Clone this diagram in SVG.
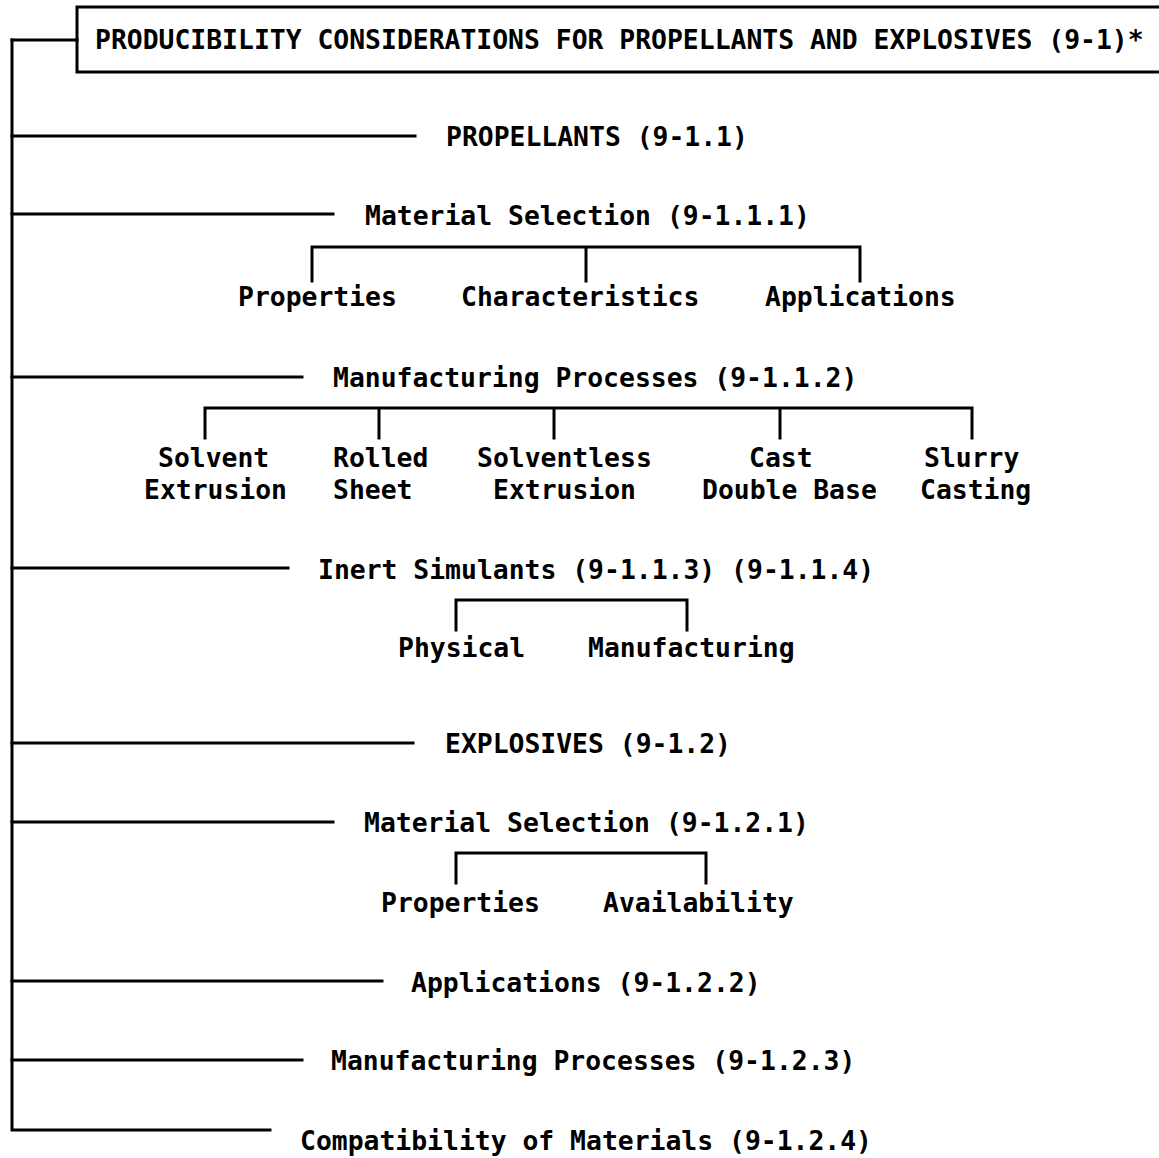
<svg xmlns="http://www.w3.org/2000/svg" width="1159" height="1158" viewBox="0 0 1159 1158">
  <style>
    .t { font-family: "DejaVu Sans Mono", "Liberation Mono", monospace; font-size: 26.4px; font-weight: bold; fill: #000; }
    .ln { stroke: #000; stroke-width: 3; fill: none; stroke-linecap: square; stroke-linejoin: miter; }
  </style>
  <rect width="1159" height="1158" fill="#fff"/>

  <!-- connectors: spine, branches and sub-brackets -->
  <g id="connectors" class="ln">
    <path d="M12,40 V1130 H270"/>
    <path d="M12,40 H77"/>
    <path d="M12,136 H415"/>
    <path d="M12,214 H333"/>
    <path d="M312,281 V247 H860 V281 M586,247 V281"/>
    <path d="M12,377 H302"/>
    <path d="M205,438 V408 H972 V438 M379,408 V438 M554,408 V438 M780,408 V438"/>
    <path d="M12,568 H288"/>
    <path d="M456,630 V600 H687 V630"/>
    <path d="M12,743 H413"/>
    <path d="M12,822 H333"/>
    <path d="M456,883 V853 H706 V883"/>
    <path d="M12,981 H382"/>
    <path d="M12,1060 H302"/>
  </g>

  <g id="root">
    <path class="ln" d="M1162,7 H77 V72 H1162"/>
    <text class="t" x="95" y="49">PRODUCIBILITY CONSIDERATIONS FOR PROPELLANTS AND EXPLOSIVES (9-1)*</text>
  </g>

  <g id="propellants"><text class="t" x="446" y="146">PROPELLANTS (9-1.1)</text></g>

  <g id="prop-material-selection"><text class="t" x="365" y="225">Material Selection (9-1.1.1)</text></g>
  <g id="prop-properties"><text class="t" x="238" y="306">Properties</text></g>
  <g id="prop-characteristics"><text class="t" x="461" y="306">Characteristics</text></g>
  <g id="prop-applications"><text class="t" x="765" y="306">Applications</text></g>

  <g id="prop-manufacturing"><text class="t" x="333" y="387">Manufacturing Processes (9-1.1.2)</text></g>
  <g id="solvent-extrusion">
    <text class="t" x="158" y="467">Solvent</text>
    <text class="t" x="144" y="499">Extrusion</text>
  </g>
  <g id="rolled-sheet">
    <text class="t" x="333" y="467">Rolled</text>
    <text class="t" x="333" y="499">Sheet</text>
  </g>
  <g id="solventless-extrusion">
    <text class="t" x="477" y="467">Solventless</text>
    <text class="t" x="493" y="499">Extrusion</text>
  </g>
  <g id="cast-double-base">
    <text class="t" x="749" y="467">Cast</text>
    <text class="t" x="702" y="499">Double Base</text>
  </g>
  <g id="slurry-casting">
    <text class="t" x="924" y="467">Slurry</text>
    <text class="t" x="920" y="499">Casting</text>
  </g>

  <g id="inert-simulants"><text class="t" x="318" y="579">Inert Simulants (9-1.1.3) (9-1.1.4)</text></g>
  <g id="physical"><text class="t" x="398" y="657">Physical</text></g>
  <g id="manufacturing"><text class="t" x="588" y="657">Manufacturing</text></g>

  <g id="explosives"><text class="t" x="445" y="753">EXPLOSIVES (9-1.2)</text></g>
  <g id="expl-material-selection"><text class="t" x="364" y="832">Material Selection (9-1.2.1)</text></g>
  <g id="expl-properties"><text class="t" x="381" y="912">Properties</text></g>
  <g id="expl-availability"><text class="t" x="603" y="912">Availability</text></g>
  <g id="expl-applications"><text class="t" x="411" y="992">Applications (9-1.2.2)</text></g>
  <g id="expl-manufacturing"><text class="t" x="331" y="1070">Manufacturing Processes (9-1.2.3)</text></g>
  <g id="expl-compatibility"><text class="t" x="300" y="1150">Compatibility of Materials (9-1.2.4)</text></g>
</svg>
